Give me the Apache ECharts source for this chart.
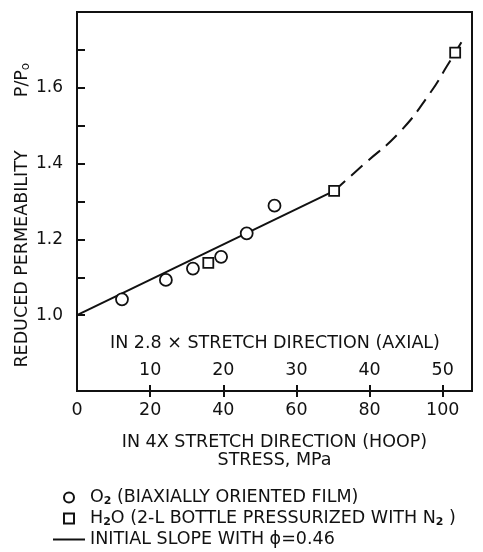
<!DOCTYPE html>
<html>
<head>
<meta charset="utf-8">
<script src="https://cdn.jsdelivr.net/npm/echarts@6/dist/echarts.min.js"></script>
<style>
  html, body { margin: 0; padding: 0; background: #fff; }
  #chart { width: 483px; height: 552px; }
</style>
</head>
<body>
<div id="chart"></div>
<script>
// Stress (MPa, hoop direction) and reduced permeability P/Po
const o2Stress = [12.3, 24.3, 31.7, 39.4, 46.4, 54.0];
const o2Perm = [1.042, 1.093, 1.123, 1.154, 1.216, 1.289];

const h2oStress = [35.9, 70.3, 103.4];
const h2oPerm = [1.138, 1.328, 1.693];

// initial slope (phi = 0.46)
const slopeStress = [0, 70.3];
const slopePerm = [1.0, 1.328];

// dashed continuation through the high-stress bottle point
const curveStress = [70.3, 78.3, 88.4, 96.6, 101.2, 105.1];
const curvePerm = [1.328, 1.397, 1.485, 1.587, 1.658, 1.72];

const hoopTicks = [20, 40, 60, 80, 100];
const hoopLabels = [0, 20, 40, 60, 80, 100];
const axialTicks = [10, 20, 30, 40, 50];
const permTicks = [1.0, 1.1, 1.2, 1.3, 1.4, 1.5, 1.6, 1.7];
const permLabels = [1.0, 1.2, 1.4, 1.6];

const legendNames = {
  o2: 'O2 (BIAXIALLY ORIENTED FILM)',
  h2o: 'H2O (2-L BOTTLE PRESSURIZED WITH N2 )',
  slope: 'INITIAL SLOPE WITH ϕ=0.46'
};
const legendRich = {};
legendRich[legendNames.o2] = 'O{sub|2} (BIAXIALLY ORIENTED FILM)';
legendRich[legendNames.h2o] = 'H{sub|2}O (2-L BOTTLE PRESSURIZED WITH N{sub|2} )';
legendRich[legendNames.slope] = 'INITIAL SLOPE WITH ϕ=0.46';

const zip = (xs, ys) => xs.map((x, i) => [x, ys[i]]);

const FONT = 'DejaVu Sans';
const INK = '#111';
const FS = 17.5;

const gridBox = { left: 77, top: 12, right: 11, bottom: 161 };

const chart = echarts.init(document.getElementById('chart'), null, { renderer: 'canvas' });

chart.setOption({
  animation: false,
  backgroundColor: '#fff',
  textStyle: { fontFamily: FONT, color: INK },
  grid: [
    Object.assign({ show: true, borderColor: INK, borderWidth: 2, backgroundColor: 'transparent' }, gridBox),
    Object.assign({ show: false }, gridBox)
  ],
  xAxis: [
    {
      gridIndex: 0,
      type: 'value',
      min: 0,
      max: 108,
      interval: 20,
      position: 'bottom',
      axisLine: { show: true, lineStyle: { color: INK, width: 2 } },
      axisTick: { show: true, inside: false, length: 6, customValues: hoopTicks, lineStyle: { color: INK, width: 2 } },
      axisLabel: {
        customValues: hoopLabels,
        margin: 10,
        fontFamily: FONT, fontSize: FS, color: INK
      },
      splitLine: { show: false },
      name: 'IN 4X STRETCH DIRECTION (HOOP)\nSTRESS, MPa',
      nameLocation: 'middle',
      nameGap: 42,
      nameTextStyle: { fontFamily: FONT, fontSize: FS, color: INK, lineHeight: 18 }
    },
    {
      gridIndex: 1,
      type: 'value',
      min: 0,
      max: 54,
      interval: 10,
      position: 'bottom',
      axisLine: { show: false },
      axisTick: { show: true, inside: true, length: 6, customValues: axialTicks, lineStyle: { color: INK, width: 2 } },
      axisLabel: {
        inside: true,
        customValues: axialTicks,
        margin: 12,
        fontFamily: FONT, fontSize: FS, color: INK
      },
      splitLine: { show: false }
    }
  ],
  yAxis: [
    {
      gridIndex: 0,
      type: 'value',
      min: 0.8,
      max: 1.8,
      interval: 0.1,
      axisLine: { show: true, lineStyle: { color: INK, width: 2 } },
      axisTick: { show: true, inside: true, length: 8, customValues: permTicks, lineStyle: { color: INK, width: 2 } },
      axisLabel: {
        customValues: permLabels,
        margin: 14,
        formatter: v => v.toFixed(1),
        fontFamily: FONT, fontSize: 17, color: INK
      },
      splitLine: { show: false }
    },
    {
      gridIndex: 1,
      type: 'value',
      min: 0.8,
      max: 1.8,
      show: false
    }
  ],
  legend: {
    orient: 'vertical',
    left: 52,
    top: 487,
    padding: 0,
    itemWidth: 32,
    itemHeight: 10,
    itemGap: 0,
    data: [
      { name: legendNames.o2, icon: 'circle' },
      { name: legendNames.h2o, icon: 'path://M0,0H10V10H0Z' },
      { name: legendNames.slope, itemStyle: { opacity: 0 } }
    ],
    formatter: name => legendRich[name],
    textStyle: {
      fontFamily: FONT,
      fontSize: FS,
      color: INK,
      lineHeight: 21,
      rich: {
        sub: { fontFamily: FONT, fontSize: 11, color: INK, fontWeight: 'bold', padding: [8, 0, 0, 0] }
      }
    }
  },
  graphic: [
    {
      type: 'text',
      x: 22, y: 259,
      rotation: Math.PI / 2,
      style: {
        text: 'REDUCED PERMEABILITY',
        fontFamily: FONT, fontSize: FS, fill: INK,
        align: 'center', verticalAlign: 'middle'
      }
    },
    {
      type: 'text',
      x: 22, y: 80,
      rotation: Math.PI / 2,
      style: {
        text: 'P/P{sub|o}',
        fontFamily: FONT, fontSize: FS, fill: INK,
        align: 'center', verticalAlign: 'middle',
        rich: { sub: { fontFamily: FONT, fontSize: 12, fill: INK, padding: [7, 0, 0, 0] } }
      }
    },
    {
      type: 'text',
      x: 275, y: 343,
      style: {
        text: 'IN 2.8 × STRETCH DIRECTION (AXIAL)',
        fontFamily: FONT, fontSize: FS, fill: INK,
        align: 'center', verticalAlign: 'middle'
      }
    }
  ],
  series: [
    {
      name: legendNames.slope,
      type: 'line',
      xAxisIndex: 0, yAxisIndex: 0,
      data: zip(slopeStress, slopePerm),
      symbol: 'none',
      lineStyle: { color: INK, width: 2 },
      itemStyle: { color: INK },
      z: 2
    },
    {
      name: 'curve',
      type: 'line',
      xAxisIndex: 0, yAxisIndex: 0,
      data: zip(curveStress, curvePerm),
      symbol: 'none',
      smooth: true,
      lineStyle: { color: INK, width: 2, type: [15, 8] },
      z: 2
    },
    {
      name: legendNames.o2,
      type: 'scatter',
      xAxisIndex: 0, yAxisIndex: 0,
      data: zip(o2Stress, o2Perm),
      symbol: 'circle',
      symbolSize: 12,
      itemStyle: { color: '#fff', borderColor: INK, borderWidth: 1.8, opacity: 1 },
      z: 3
    },
    {
      name: legendNames.h2o,
      type: 'scatter',
      xAxisIndex: 0, yAxisIndex: 0,
      data: zip(h2oStress, h2oPerm),
      symbol: 'rect',
      symbolSize: 10,
      itemStyle: { color: '#fff', borderColor: INK, borderWidth: 1.8, opacity: 1 },
      z: 3
    }
  ]
});
</script>
</body>
</html>
